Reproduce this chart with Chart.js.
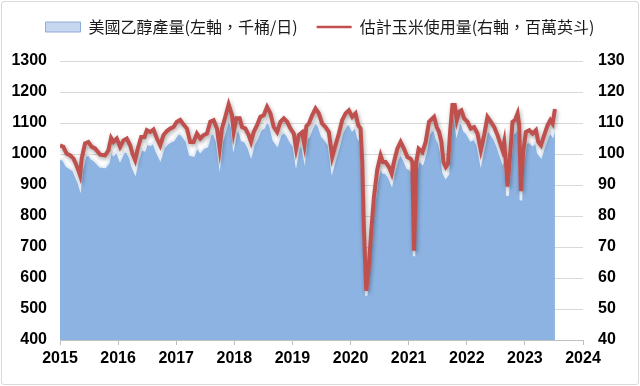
<!DOCTYPE html>
<html>
<head>
<meta charset="utf-8">
<script src="https://cdn.jsdelivr.net/npm/chart.js@4.4.1/dist/chart.umd.min.js"></script>
<style>
  html, body { margin: 0; padding: 0; background: #fff; }
  #wrap { position: relative; width: 640px; height: 386px; }
  #c { position: absolute; left: 0; top: 0; }
  #frame { position: absolute; left: 1px; top: 1px; width: 636px; height: 382px; border: 1px solid #d9d9d9; border-radius: 3px; pointer-events: none; }
</style>
</head>
<body>
<div id="wrap">
  <canvas id="c" width="640" height="386"></canvas>
  <div id="frame"></div>
</div>
<script>
// weekly-ish samples, decimal years
const dates = [
  2015.000,2015.057,2015.115,2015.172,2015.230,2015.270,2015.316,2015.345,2015.374,2015.431,
  2015.489,2015.546,2015.603,2015.690,2015.776,2015.833,2015.879,2015.920,2015.977,2016.034,
  2016.092,2016.149,2016.207,2016.247,2016.293,2016.339,2016.397,2016.454,2016.494,2016.552,
  2016.609,2016.667,2016.724,2016.782,2016.839,2016.897,2016.954,2017.011,2017.069,2017.126,
  2017.184,2017.241,2017.299,2017.356,2017.414,2017.471,2017.529,2017.586,2017.644,2017.701,
  2017.747,2017.787,2017.845,2017.902,2017.960,2017.989,2018.034,2018.092,2018.132,2018.190,
  2018.247,2018.287,2018.333,2018.391,2018.448,2018.506,2018.563,2018.621,2018.678,2018.736,
  2018.793,2018.851,2018.908,2018.966,2019.023,2019.063,2019.109,2019.167,2019.206,2019.240,
  2019.282,2019.339,2019.397,2019.454,2019.511,2019.569,2019.626,2019.684,2019.741,2019.799,
  2019.856,2019.914,2019.971,2020.029,2020.086,2020.132,2020.172,2020.201,2020.230,2020.270,
  2020.316,2020.356,2020.402,2020.460,2020.517,2020.557,2020.603,2020.661,2020.707,2020.747,
  2020.805,2020.862,2020.920,2020.977,2021.034,2021.063,2021.092,2021.132,2021.172,2021.236,
  2021.293,2021.351,2021.408,2021.437,2021.483,2021.523,2021.563,2021.598,2021.638,2021.678,
  2021.713,2021.753,2021.793,2021.828,2021.868,2021.908,2021.954,2022.011,2022.069,2022.126,
  2022.184,2022.241,2022.299,2022.356,2022.414,2022.471,2022.529,2022.586,2022.615,2022.644,
  2022.672,2022.701,2022.741,2022.787,2022.828,2022.874,2022.902,2022.931,2022.971,2023.017,
  2023.075,2023.132,2023.190,2023.230,2023.276,2023.333,2023.391,2023.437,2023.477,2023.517
]

// 美國乙醇產量 (千桶/日), left axis
const ethanol = [
  985,982,962,955,948,930,910,893,945,992,
  1000,985,978,960,958,972,1012,998,1010,982,
  1005,1010,988,960,940,978,1015,1012,1035,1030,
  1038,1008,985,1020,1032,1040,1045,1062,1068,1055,
  1040,998,995,1025,1008,1020,1025,1062,1068,1040,
  975,1040,1078,1118,1085,1030,1072,1075,1045,1040,
  1020,998,1030,1052,1078,1085,1110,1090,1045,1030,
  1062,1072,1062,1040,1025,975,1020,1030,990,1048,
  1058,1085,1105,1090,1058,1045,1030,950,988,1025,
  1068,1090,1100,1078,1090,1052,1040,940,735,543,
  620,728,835,915,962,940,940,925,905,940,
  982,1003,982,955,950,940,670,940,982,970,
  1003,1065,1078,1082,1050,1035,1003,940,925,935,
  1035,1120,1118,1070,1098,1102,1076,1065,1045,1050,
  1030,975,1025,1082,1065,1050,1025,992,977,1003,
  940,865,950,1065,1070,1092,1055,850,970,1035,
  1040,1030,1040,1003,992,1025,1055,1072,1060,1090
]

// 估計玉米使用量 (百萬英斗), right axis
const cornUse = [
  102.8,102.3,100.1,99.6,98.6,97.0,94.7,93.1,98.6,103.4,
  103.9,102.3,101.8,99.8,99.6,101.2,105.2,103.9,105.0,102.3,
  104.4,105.0,102.8,100.1,98.0,101.8,105.5,105.5,107.7,107.1,
  107.9,105.0,102.8,106.1,107.4,108.2,108.7,110.4,111.0,109.5,
  108.2,103.9,103.9,106.6,105.0,106.1,106.6,110.4,110.9,108.2,
  101.7,108.2,112.0,116.0,112.5,107.1,111.5,111.5,108.7,108.2,
  106.1,103.9,107.1,109.3,112.0,112.5,115.2,113.1,108.7,107.1,
  110.4,111.5,110.4,108.2,106.6,101.7,106.1,107.0,103.0,109.0,
  109.8,112.5,114.7,113.1,109.8,108.7,107.1,99.0,102.8,106.6,
  110.9,113.1,114.1,112.0,113.1,109.3,108.2,97.4,75.9,55.9,
  64.0,75.0,86.0,95.0,99.6,97.4,97.4,95.8,93.7,97.4,
  101.7,103.9,101.7,99.0,98.5,97.4,68.8,97.4,101.7,100.6,
  103.9,110.4,111.5,112.0,108.7,107.1,103.9,97.4,95.8,96.9,
  107.1,115.8,115.8,110.9,113.6,114.1,111.5,110.4,108.2,108.7,
  106.6,101.2,106.1,112.0,110.4,108.7,106.1,102.8,101.2,103.9,
  97.4,89.5,98.5,110.4,110.9,113.1,109.3,88.0,100.6,107.1,
  107.7,106.6,107.7,103.9,102.8,106.1,109.3,110.9,109.8,114.5
]

const yearTicks = [2015,2016,2017,2018,2019,2020,2021,2022,2023,2024]
const leftTicks = [400,500,600,700,800,900,1000,1100,1200,1300]
const rightTicks = [40,50,60,70,80,90,100,110,120,130]

const labelEthanol = '美國乙醇產量(左軸，千桶/日)'
const labelCorn = '估計玉米使用量(右軸，百萬英斗)'

const tickFont = { family: "'Liberation Sans', Arial, sans-serif", size: 16, weight: 'bold' }

// soft shadow under the red line, like the excel effect
const lineShadow = {
  id: 'lineShadow',
  beforeDatasetDraw(chart, args) {
    if (args.index !== 1) return
    const ctx = chart.ctx
    ctx.save()
    ctx.shadowColor = 'rgba(0,0,0,0.35)'
    ctx.shadowBlur = 4
    ctx.shadowOffsetX = 1
    ctx.shadowOffsetY = 2
  },
  afterDatasetDraw(chart, args) {
    if (args.index !== 1) return
    chart.ctx.restore()
  }
}

const legendHeight = {
  id: 'legendHeight',
  beforeInit(chart) {
    const fit = chart.legend.fit
    chart.legend.fit = function () { fit.call(this); this.height = 61 }
  }
}

new Chart(document.getElementById('c'), {
  type: 'line',
  data: {
    datasets: [
      {
        label: labelEthanol,
        data: dates.map((d, i) => ({ x: d, y: ethanol[i] })),
        yAxisID: 'y',
        fill: 'start',
        backgroundColor: '#8DB3E2',
        borderColor: 'rgba(236,240,247,0.95)',
        borderWidth: 2.5,
        pointRadius: 0,
        tension: 0,
        order: 2
      },
      {
        label: labelCorn,
        data: dates.map((d, i) => ({ x: d, y: cornUse[i] })),
        yAxisID: 'y2',
        fill: false,
        borderColor: '#C0504D',
        borderWidth: 4,
        pointRadius: 0,
        tension: 0,
        order: 1
      }
    ]
  },
  options: {
    responsive: false,
    animation: false,
    devicePixelRatio: 1,
    layout: { padding: 0 },
    plugins: {
      tooltip: { enabled: false },
      legend: {
        display: true,
        position: 'top',
        labels: {
          color: '#1a1a1a',
          font: { family: "'Noto Sans CJK TC', 'Noto Sans CJK SC', sans-serif", size: 16 },
          padding: 19,
          usePointStyle: true,
          pointStyleWidth: 35,
          boxHeight: 10,
          generateLabels: () => [
            { text: labelEthanol, datasetIndex: 0, pointStyle: 'rect', fillStyle: '#c6d8f0', strokeStyle: '#8eaadb', lineWidth: 1, fontColor: '#1a1a1a' },
            { text: labelCorn, datasetIndex: 1, pointStyle: 'line', fillStyle: '#C0504D', strokeStyle: '#C0504D', lineWidth: 2.5, fontColor: '#1a1a1a' }
          ]
        }
      }
    },
    scales: {
      x: {
        type: 'linear',
        min: 2015,
        max: 2024,
        afterBuildTicks: s => { s.ticks = yearTicks.map(v => ({ value: v })) },
        afterFit: s => { s.height = 46 },
        ticks: { font: tickFont, color: '#000', padding: 4, maxRotation: 0, callback: v => String(v) },
        grid: { drawOnChartArea: false, drawTicks: true, tickLength: 5, color: '#bfbfbf' },
        border: { display: true, color: '#bfbfbf', width: 1 }
      },
      y: {
        position: 'left',
        min: 400,
        max: 1300,
        afterBuildTicks: s => { s.ticks = leftTicks.map(v => ({ value: v })) },
        afterFit: s => { s.width = 60 },
        ticks: { font: tickFont, color: '#000', padding: 13, callback: v => String(v) },
        grid: { color: '#d9d9d9', drawTicks: false },
        border: { display: false }
      },
      y2: {
        position: 'right',
        min: 40,
        max: 130,
        afterBuildTicks: s => { s.ticks = rightTicks.map(v => ({ value: v })) },
        afterFit: s => { s.width = 57 },
        ticks: { font: tickFont, color: '#000', padding: 15, callback: v => String(v) },
        grid: { drawOnChartArea: false, drawTicks: false },
        border: { display: false }
      }
    }
  },
  plugins: [lineShadow, legendHeight]
})
</script>
</body>
</html>
